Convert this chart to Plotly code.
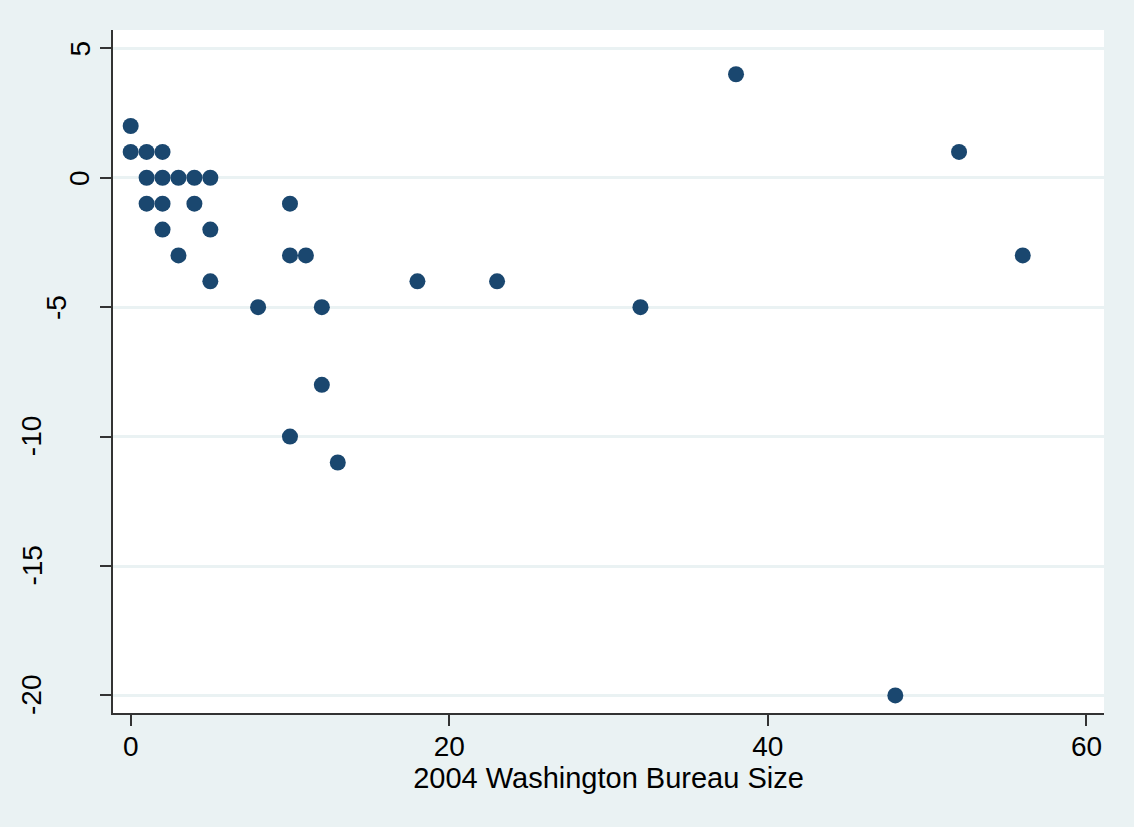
import plotly.graph_objects as go

bureau_size = [0, 0, 1, 2,
               1, 2, 3, 4, 5,
               1, 2, 4, 10,
               2, 5,
               3, 10, 11,
               5, 18, 23,
               8, 12, 32,
               12, 10, 13,
               38, 52, 56, 48]
change = [2, 1, 1, 1,
          0, 0, 0, 0, 0,
          -1, -1, -1, -1,
          -2, -2,
          -3, -3, -3,
          -4, -4, -4,
          -5, -5, -5,
          -8, -10, -11,
          4, 1, -3, -20]

x_ticks = [0, 20, 40, 60]
y_ticks = [-20, -15, -10, -5, 0, 5]
y_labels = ["-20", "-15", "-10", "-5", "0", "5"]

bg = "#eaf2f3"
font = dict(family="Liberation Sans, Arial, sans-serif", size=28, color="black")
title_font = dict(family="Liberation Sans, Arial, sans-serif", size=29, color="black")

fig = go.Figure(go.Scatter(
    x=bureau_size, y=change, mode="markers",
    marker=dict(size=16, color="#1a476f", line=dict(width=0)),
    showlegend=False,
))

# Stata-style rotated y tick labels (offset grows with label length)
for v, lab in zip(y_ticks, y_labels):
    fig.add_annotation(
        x=0, xref="paper", y=v, yref="y", text=lab, showarrow=False,
        textangle=-90, font=font, xanchor="center", yanchor="middle",
        xshift=-8.5 - 24.3 * len(lab),
    )

fig.update_layout(
    width=1134, height=827,
    margin=dict(l=113, r=30, t=30, b=114),
    paper_bgcolor=bg, plot_bgcolor="white",
    font=font,
    xaxis=dict(
        range=[-1.11, 61.1], tickvals=x_ticks, ticks="outside", ticklen=11,
        tickwidth=1.5, tickcolor="#333", showgrid=False, zeroline=False,
        showline=True, linecolor="#333", linewidth=1.5,
        title=dict(text="2004 Washington Bureau Size", standoff=0, font=title_font),
        tickfont=font, ticklabelstandoff=-3,
    ),
    yaxis=dict(
        range=[-20.68, 5.71], tickvals=y_ticks, showticklabels=False,
        ticks="outside", ticklen=11,
        tickwidth=1.5, tickcolor="#333", showgrid=True, gridcolor=bg, gridwidth=2.5,
        zeroline=False, showline=True, linecolor="#333", linewidth=1.5,
    ),
)

fig.write_html(
    "out.html",
    config={"displayModeBar": False},
    post_script="document.body.style.margin='0';document.body.style.padding='0';",
)
